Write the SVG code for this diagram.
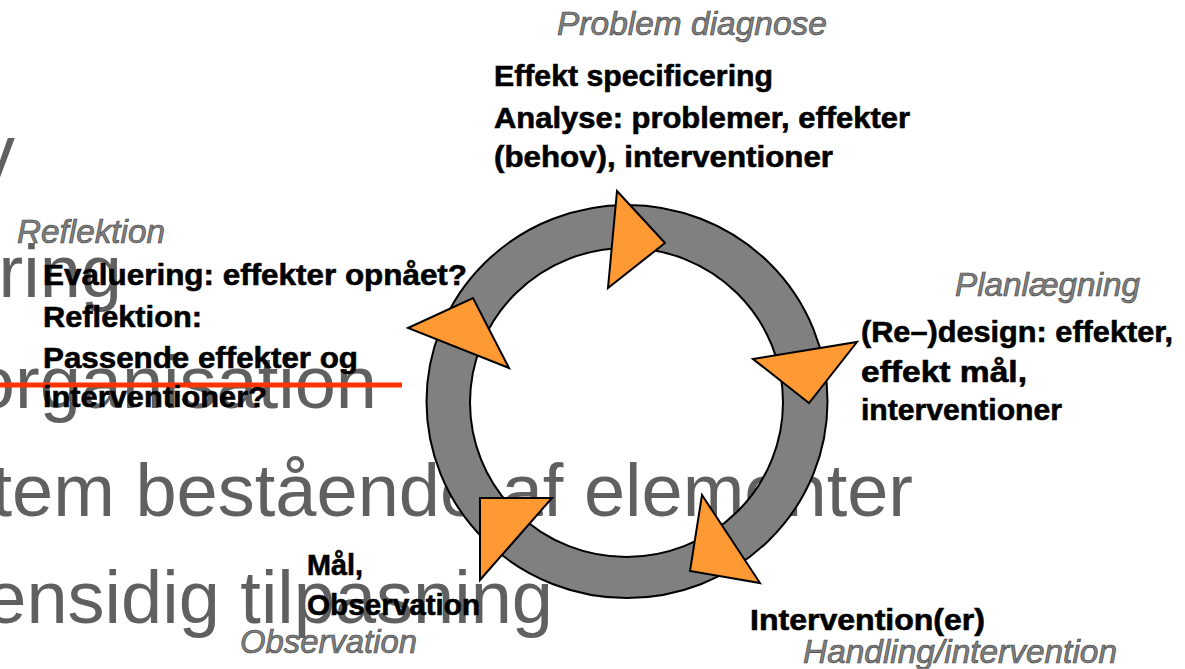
<svg xmlns="http://www.w3.org/2000/svg" width="1185" height="669" viewBox="0 0 1185 669">
<style>
.bg{font-family:"Liberation Sans",Arial,sans-serif;font-size:74px;fill:#606060;text-anchor:end}
.b{font-family:"Liberation Sans",Arial,sans-serif;font-weight:bold;font-size:30px;fill:#000;stroke:#000;stroke-width:0.6}
.it{font-family:"Liberation Sans",Arial,sans-serif;font-style:italic;font-size:33px;fill:#808080;stroke:#3a3a3a;stroke-width:0.6}
.tri{fill:#FF9933;stroke:#000;stroke-width:2;stroke-linejoin:miter}
</style>
<rect width="1185" height="669" fill="#fff"/>
<g id="background-text">
<text class="bg" x="15" y="177">v</text>
<text class="bg" x="122" y="297">ring</text>
<text class="bg" x="377" y="408">organisation</text>
<text class="bg" x="913" y="516">tem bestående af elementer</text>
<text class="bg" x="553" y="623">ensidig tilpasning</text>
</g>
<line x1="0" y1="385" x2="402" y2="385" stroke="#FF3300" stroke-width="5"/>
<g id="cycle">
<path d="M426.5,401.5 a200.5,196.5 0 1,0 401,0 a200.5,196.5 0 1,0 -401,0 Z M470,402.5 a156.5,154.5 0 1,0 313,0 a156.5,154.5 0 1,0 -313,0 Z" fill="#808080" fill-rule="evenodd" stroke="#000" stroke-width="2"/>
</g>
<g id="connectors">
<polygon class="tri" points="617,191 665,243 608,288"/>
<polygon class="tri" points="753,359 857,342 809,403"/>
<polygon class="tri" points="702,495 760,583 690,571"/>
<polygon class="tri" points="480,498 552,498 480,580"/>
<polygon class="tri" points="408,328 473,298 509,368"/>
</g>
<g id="node-problem-diagnose">
<text class="it" x="557" y="35" textLength="270" lengthAdjust="spacingAndGlyphs">Problem diagnose</text>
<text class="b" x="494" y="86" textLength="279" lengthAdjust="spacingAndGlyphs">Effekt specificering</text>
<text class="b" x="494" y="128" textLength="416" lengthAdjust="spacingAndGlyphs">Analyse: problemer, effekter</text>
<text class="b" x="494" y="167" textLength="339" lengthAdjust="spacingAndGlyphs">(behov), interventioner</text>
</g>
<g id="node-planlaegning">
<text class="it" x="955" y="296" textLength="185" lengthAdjust="spacingAndGlyphs">Planlægning</text>
<text class="b" x="861" y="342" textLength="312" lengthAdjust="spacingAndGlyphs">(Re–)design: effekter,</text>
<text class="b" x="861" y="382" textLength="166" lengthAdjust="spacingAndGlyphs">effekt mål,</text>
<text class="b" x="861" y="420" textLength="201" lengthAdjust="spacingAndGlyphs">interventioner</text>
</g>
<g id="node-handling">
<text class="b" x="750" y="630" textLength="235" lengthAdjust="spacingAndGlyphs">Intervention(er)</text>
<text class="it" x="803" y="663" textLength="314" lengthAdjust="spacingAndGlyphs">Handling/intervention</text>
</g>
<g id="node-observation">
<text class="b" x="307" y="575" textLength="56" lengthAdjust="spacingAndGlyphs">Mål,</text>
<text class="b" x="307" y="615" textLength="173" lengthAdjust="spacingAndGlyphs">Observation</text>
<text class="it" x="240" y="653" textLength="177" lengthAdjust="spacingAndGlyphs">Observation</text>
</g>
<g id="node-refleksion">
<text class="it" x="17" y="243" textLength="148" lengthAdjust="spacingAndGlyphs">Reflektion</text>
<text class="b" x="43" y="285" textLength="424" lengthAdjust="spacingAndGlyphs">Evaluering: effekter opnået?</text>
<text class="b" x="43" y="327" textLength="159" lengthAdjust="spacingAndGlyphs">Reflektion:</text>
<text class="b" x="43" y="368" textLength="315" lengthAdjust="spacingAndGlyphs">Passende effekter og</text>
<text class="b" x="43" y="407" textLength="224" lengthAdjust="spacingAndGlyphs">interventioner?</text>
</g>
</svg>
